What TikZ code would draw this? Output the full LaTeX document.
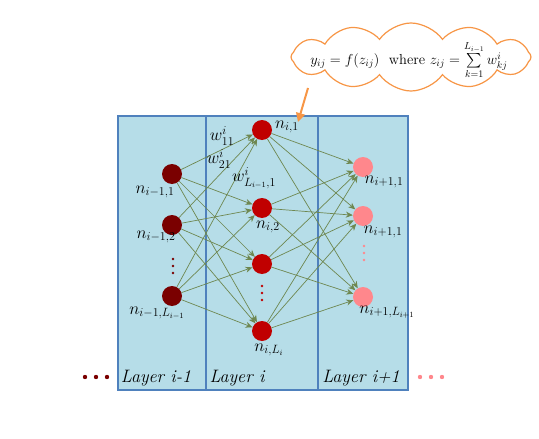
\documentclass[tikz,border=0pt]{standalone}
\usepackage{amsmath, amssymb}
\usepackage{tikz}
\usetikzlibrary{shapes.symbols, arrows.meta, positioning}
\definecolor{layerfill}{RGB}{182,221,232}
\definecolor{layerline}{RGB}{79,129,189}
\definecolor{prevred}{RGB}{122,0,0}
\definecolor{currred}{RGB}{192,0,0}
\definecolor{nextpink}{RGB}{255,135,140}
\definecolor{wirecol}{RGB}{110,135,80}
\definecolor{calloutcol}{RGB}{247,150,70}
\tikzset{
    layer/.style={draw=layerline, fill=layerfill, line width=1.2pt},
    neuron/.style={circle, minimum size=20pt, inner sep=0pt},
    wire/.style={draw=wirecol, line width=0.7pt, -{Stealth[length=7pt, width=6pt]}},
    lbl/.style={inner sep=0pt, font=\fontsize{17}{20}\selectfont},
    layername/.style={inner sep=0pt, font=\fontsize{18}{21}\selectfont\itshape}
}

\begin{document}
\begin{tikzpicture}[x=1pt, y=-1pt]
\useasboundingbox (0,0) rectangle (539,439);
% layer boxes
\draw[layer] (118,116) rectangle (206,390);
\draw[layer] (206,116) rectangle (318,390);
\draw[layer] (318,116) rectangle (408,390);
\node[layername] (lprev) at (156,378) {Layer i-1};
\node[layername] (lcurr) at (237,378) {Layer i};
\node[layername] (lnext) at (361,378) {Layer i+1};

% neurons
\node[neuron, fill=prevred] (p1) at (172,174) {};
\node[neuron, fill=prevred] (p2) at (172,225) {};
\node[neuron, fill=prevred] (p3) at (172,296) {};
\node[neuron, fill=currred] (c1) at (262,130) {};
\node[neuron, fill=currred] (c2) at (262,208) {};
\node[neuron, fill=currred] (c3) at (262,264) {};
\node[neuron, fill=currred] (c4) at (262,331) {};
\node[neuron, fill=nextpink] (n1) at (363,167) {};
\node[neuron, fill=nextpink] (n2) at (363,216) {};
\node[neuron, fill=nextpink] (n3) at (363,297) {};

% connections
\foreach \a in {p1,p2,p3}
  \foreach \b in {c1,c2,c3,c4}
    \draw[wire] (\a) -- (\b);
\foreach \a in {c1,c2,c3,c4}
  \foreach \b in {n1,n2,n3}
    \draw[wire] (\a) -- (\b);

% vertical dots
\foreach \y in {259,266,273} \fill[prevred] (173,\y) circle (1.4);
\foreach \y in {286,293,300} \fill[currred] (262,\y) circle (1.4);
\foreach \y in {246,253,260} \fill[nextpink] (364,\y) circle (1.4);
% side dots
\foreach \x in {85,96,107} \fill[prevred] (\x,377) circle (2.2);
\foreach \x in {420,431,442} \fill[nextpink] (\x,377) circle (2.2);

% neuron labels
\node[lbl] (tp1) at (155,192) {$n_{i-1,1}$};
\node[lbl] (tp2) at (156,237) {$n_{i-1,2}$};
\node[lbl] (tp3) at (157,313) {$n_{i-1,L_{i-1}}$};
\node[lbl] (tc1) at (287,127) {$n_{i,1}$};
\node[lbl] (tc2) at (268,227) {$n_{i,2}$};
\node[lbl] (tc4) at (269,350) {$n_{i,L_i}$};
\node[lbl] (tn1) at (384,182) {$n_{i+1,1}$};
\node[lbl] (tn2) at (383,232) {$n_{i+1,1}$};
\node[lbl] (tn3) at (387,312) {$n_{i+1,L_{i+1}}$};

% weights
\node[lbl] (w1) at (222,136) {$w_{11}^{i}$};
\node[lbl] (w2) at (219,159) {$w_{21}^{i}$};
\node[lbl] (w3) at (254,178) {$w_{L_{i-1},1}^{i}$};

% callout
\node[cloud, draw=calloutcol, fill=white, line width=1.2pt, cloud puffs=12, cloud puff arc=110,
      cloud ignores aspect, minimum width=240pt, minimum height=68pt, inner sep=0pt] (eq) at (411,57) {};
\node[inner sep=0pt, font=\fontsize{14.5}{17}\selectfont] (eqtext) at (409,60)
      {$y_{ij} = f(z_{ij})$\ \ where $z_{ij} = \sum\limits_{k=1}^{L_{i-1}} w_{kj}^{i}$};
\coordinate (tail) at (308,88);
\coordinate (tip) at (298,122);
\draw[calloutcol, line width=2pt, -{Triangle[length=9pt, width=9pt]}] (tail) -- (tip);
\end{tikzpicture}
\end{document}
